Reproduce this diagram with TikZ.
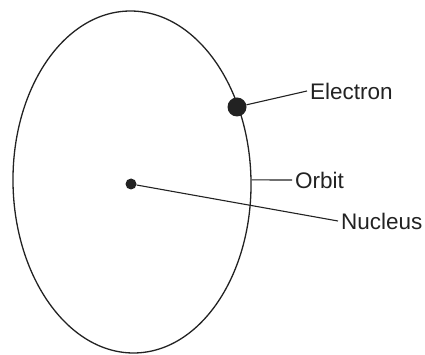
\documentclass[tikz,border=0pt]{standalone}
\usepackage{fontspec}
\setmainfont{Liberation Sans}
\usetikzlibrary{shapes.geometric}
\definecolor{ink}{HTML}{222222}

\begin{document}
\begin{tikzpicture}[
  x=1pt, y=-1pt,
  font=\fontsize{22.5}{25}\selectfont,
  orbitline/.style={draw=ink, line width=1.3pt, ellipse, inner sep=0pt},
  particle/.style={circle, fill=ink, inner sep=0pt},
  leader/.style={draw=ink, line width=1.1pt},
  tag/.style={anchor=west, inner sep=3pt, text=ink}
]
\useasboundingbox (0,0) rectangle (425,355);
\node[orbitline, minimum width=238pt, minimum height=342pt, rotate=1] (orbit) at (132,182) {};
\node[particle, minimum size=19pt] (electron) at (237,107) {};
\node[particle, minimum size=11pt] (nucleus) at (131,184) {};
\node[tag] (elabel) at (307,91) {Electron};
\node[tag] (olabel) at (292,180) {Orbit};
\node[tag] (nlabel) at (338,221) {Nucleus};
\draw[leader] (electron) -- (elabel.west);
\draw[leader] (orbit.east) -- (olabel.west);
\draw[leader] (nucleus) -- (nlabel.west);
\end{tikzpicture}
\end{document}
